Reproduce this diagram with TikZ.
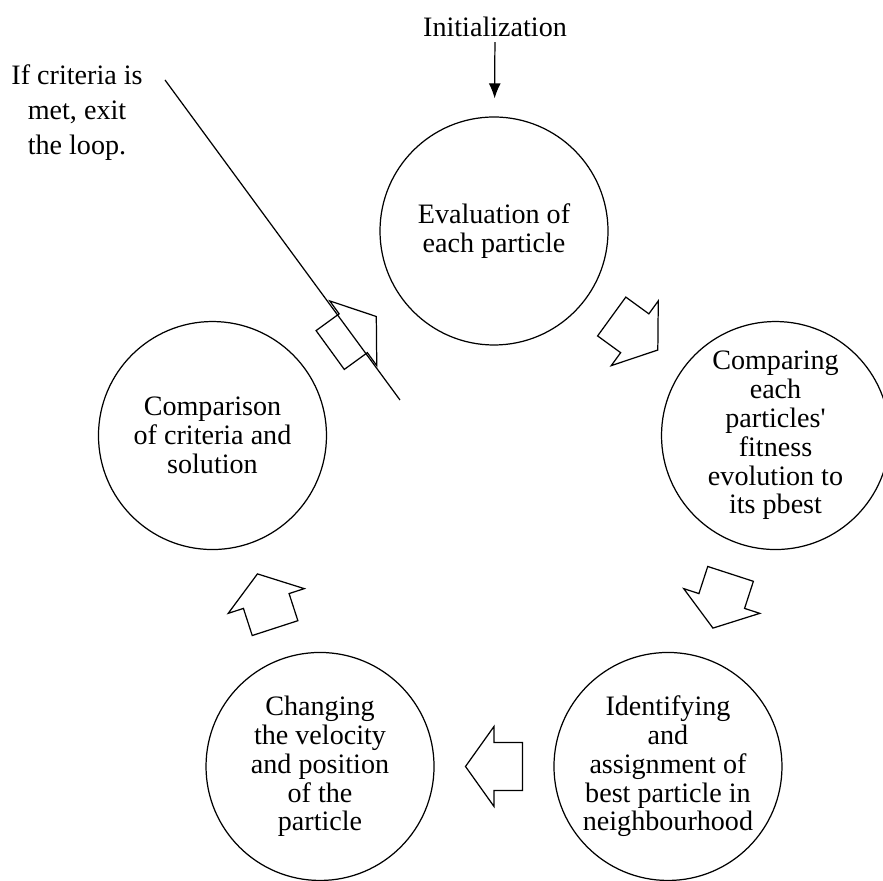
\documentclass[tikz,border=0pt]{standalone}
\usepackage{fontspec}
\setmainfont{Liberation Serif}
\usetikzlibrary{arrows.meta, calc}

\tikzset{
  stage/.style={draw, circle, line width=0.7pt, minimum size=4.56cm,
    inner sep=0pt, align=center, font=\fontsize{16}{16.4}\selectfont},
  label/.style={align=center, inner sep=0pt},
  pics/blockarrow/.style={code={
    \draw[line width=0.7pt, line join=miter] (-0.57,-0.48) -- (0,-0.48) -- (0,-0.8)
      -- (0.57,0) -- (0,0.8) -- (0,0.48) -- (-0.57,0.48) -- cycle;
  }}
}

\begin{document}
\begin{tikzpicture}
  \useasboundingbox (0,0) rectangle (17.66,-17.62);
  \coordinate (hub) at (9.88,-10.54);
  % the five stages of the loop
  \node[stage] (eval) at ($(hub)+(90:5.92)$) {Evaluation of\\each particle};
  \node[stage] (compare) at ($(hub)+(18:5.92)$)
    {Comparing\\each\\particles\textquotesingle\\fitness\\evolution to\\its pbest};
  \node[stage] (assign) at ($(hub)+(-54:5.92)$)
    {Identifying\\and\\assignment of\\best particle in\\neighbourhood};
  \node[stage] (update) at ($(hub)+(-126:5.92)$)
    {Changing\\the velocity\\and position\\of the\\particle};
  \node[stage] (check) at ($(hub)+(162:5.92)$)
    {Comparison\\of criteria and\\solution};
  % block arrows between the stages
  \foreach \a/\b/\r [count=\i] in {eval/compare/-36, compare/assign/-108,
                                   assign/update/180, update/check/108,
                                   check/eval/36}
    \pic[rotate=\r] (turn\i) at ($(\a)!0.5!(\b)$) {blockarrow};
  % start
  \node[label, font=\fontsize{16}{16.4}\selectfont] (init) at (9.9,-0.54) {Initialization};
  \draw[line width=0.7pt, -{Latex[length=0.3cm, width=0.24cm]},
        shorten <=0.1cm, shorten >=0.36cm] (init) -- (eval);
  % exit
  \node[label, font=\fontsize{16}{19.9}\selectfont] (exit) at (1.54,-2.26)
    {If criteria is\\met, exit\\the loop.};
  \coordinate (cutA) at (3.3,-1.6);
  \coordinate (cutB) at (8.0,-8.0);
  \draw[line width=0.7pt] (cutA) -- (cutB);
\end{tikzpicture}
\end{document}
